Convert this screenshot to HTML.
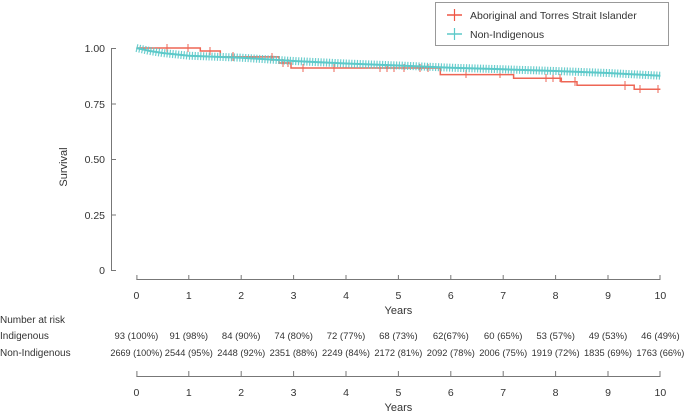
<!DOCTYPE html>
<html><head><style>
body{margin:0;background:#fff;}
svg text{font-family:"Liberation Sans",sans-serif;fill:#333;}
</style></head><body>
<svg width="685" height="414" viewBox="0 0 685 414" xmlns="http://www.w3.org/2000/svg">
<rect width="685" height="414" fill="#fff"/>
<rect x="435.5" y="2.5" width="233" height="43" fill="#fff" stroke="#999" stroke-width="1"/>
<line x1="447" y1="15" x2="462" y2="15" stroke="#ee5544" stroke-width="1.5"/>
<line x1="454.5" y1="9" x2="454.5" y2="21" stroke="#ee5544" stroke-width="1.2"/>
<line x1="447" y1="34" x2="462" y2="34" stroke="#5cc9c9" stroke-width="1.5"/>
<line x1="454.5" y1="28" x2="454.5" y2="40" stroke="#5cc9c9" stroke-width="1.2"/>
<text x="470" y="19" font-size="10.5">Aboriginal and Torres Strait Islander</text>
<text x="470" y="38" font-size="10.5">Non-Indigenous</text>
<g stroke="#777" stroke-width="1">
<line x1="111.5" y1="48" x2="111.5" y2="271"/>
<line x1="111" y1="48.5" x2="116" y2="48.5"/>
<line x1="111" y1="104" x2="116" y2="104"/>
<line x1="111" y1="159.5" x2="116" y2="159.5"/>
<line x1="111" y1="215" x2="116" y2="215"/>
<line x1="111" y1="270.5" x2="116" y2="270.5"/>
</g>
<g font-size="10.5" text-anchor="end">
<text x="105" y="52">1.00</text><text x="105" y="108">0.75</text><text x="105" y="163">0.50</text><text x="105" y="219">0.25</text><text x="105" y="274">0</text>
</g>
<text transform="translate(67,167) rotate(-90)" font-size="11" text-anchor="middle">Survival</text>
<g stroke="#777" stroke-width="1">
<line x1="136.4" y1="279.5" x2="660.4" y2="279.5"/>
<path d="M136.9 275V280M188.8 275V280M241.2 275V280M293.6 275V280M346 275V280M398.4 275V280M450.8 275V280M503.2 275V280M555.6 275V280M608 275V280M660 275V280"/>
<line x1="136.4" y1="376.5" x2="660.4" y2="376.5"/>
<path d="M136.9 371V377M188.8 371V377M241.2 371V377M293.6 371V377M346 371V377M398.4 371V377M450.8 371V377M503.2 371V377M555.6 371V377M608 371V377M660 371V377"/>
</g>
<g font-size="10.5" text-anchor="middle">
<text x="136.4" y="299">0</text><text x="188.8" y="299">1</text><text x="241.2" y="299">2</text><text x="293.6" y="299">3</text><text x="346" y="299">4</text><text x="398.4" y="299">5</text><text x="450.8" y="299">6</text><text x="503.2" y="299">7</text><text x="555.6" y="299">8</text><text x="608" y="299">9</text><text x="660.4" y="299">10</text>
<text x="398.4" y="314" font-size="11">Years</text>
<text x="136.4" y="396">0</text><text x="188.8" y="396">1</text><text x="241.2" y="396">2</text><text x="293.6" y="396">3</text><text x="346" y="396">4</text><text x="398.4" y="396">5</text><text x="450.8" y="396">6</text><text x="503.2" y="396">7</text><text x="555.6" y="396">8</text><text x="608" y="396">9</text><text x="660.4" y="396">10</text>
<text x="398.4" y="411" font-size="11">Years</text>
</g>
<g font-size="10">
<text x="0" y="323">Number at risk</text>
<text x="0" y="339">Indigenous</text>
<text x="0" y="356">Non-Indigenous</text>
</g>
<g font-size="9.5" text-anchor="middle">
<g transform="translate(0,339)">
<text x="136.4">93 (100%)</text><text x="188.8">91 (98%)</text><text x="241.2">84 (90%)</text><text x="293.6">74 (80%)</text><text x="346">72 (77%)</text><text x="398.4">68 (73%)</text><text x="450.8">62(67%)</text><text x="503.2">60 (65%)</text><text x="555.6">53 (57%)</text><text x="608">49 (53%)</text><text x="660.4">46 (49%)</text>
</g>
<g transform="translate(0,356)">
<text x="136.4" textLength="52" lengthAdjust="spacingAndGlyphs">2669 (100%)</text><text x="188.8" textLength="48" lengthAdjust="spacingAndGlyphs">2544 (95%)</text><text x="241.2" textLength="48" lengthAdjust="spacingAndGlyphs">2448 (92%)</text><text x="293.6" textLength="48" lengthAdjust="spacingAndGlyphs">2351 (88%)</text><text x="346" textLength="48" lengthAdjust="spacingAndGlyphs">2249 (84%)</text><text x="398.4" textLength="48" lengthAdjust="spacingAndGlyphs">2172 (81%)</text><text x="450.8" textLength="48" lengthAdjust="spacingAndGlyphs">2092 (78%)</text><text x="503.2" textLength="48" lengthAdjust="spacingAndGlyphs">2006 (75%)</text><text x="555.6" textLength="48" lengthAdjust="spacingAndGlyphs">1919 (72%)</text><text x="608" textLength="48" lengthAdjust="spacingAndGlyphs">1835 (69%)</text><text x="660.4" textLength="48" lengthAdjust="spacingAndGlyphs">1763 (66%)</text>
</g>
</g>
<path d="M136.4 48H200.3V51H220.3V56.9H279V63H291V68H440.3V74.6H513.6V78.3H561.3V81.7H577V85.3H634.2V89.3H660.4" fill="none" stroke="#ee6655" stroke-width="1.5"/>
<g stroke="#ee6655" stroke-width="1">
<path d="M167 44V52M188 44V52M210 47V55M233 52V61M272 53V61M283 59V67M288 59V67M303 64V72M334 64V72M380 64V72M387 64V72M394 64V72M404 64V72M420 64V72M428 64V72M466 70V78M500 70V78M546 74V82M553 74V82M560 74V82M575 77V86M625 81V90M640 85V93M658 85V93"/>
</g>
<polyline points="136.4,48 150,51 162.6,53 188.8,55.7 241.2,57.7 293.6,61 346,63.5 398.4,65.5 450.8,67.7 503.2,69.3 555.6,71 608,73 660.4,75.7" fill="none" stroke="#5cc9c9" stroke-width="2"/>
<polyline points="136.4,48 150,51 162.6,53 188.8,55.7 241.2,57.7 293.6,61 346,63.5 398.4,65.5 450.8,67.7 503.2,69.3 555.6,71 608,73 660.4,75.7" fill="none" stroke="#5cc9c9" stroke-width="8" stroke-dasharray="1.2 1.6" opacity="0.9"/>
</svg>
</body></html>
